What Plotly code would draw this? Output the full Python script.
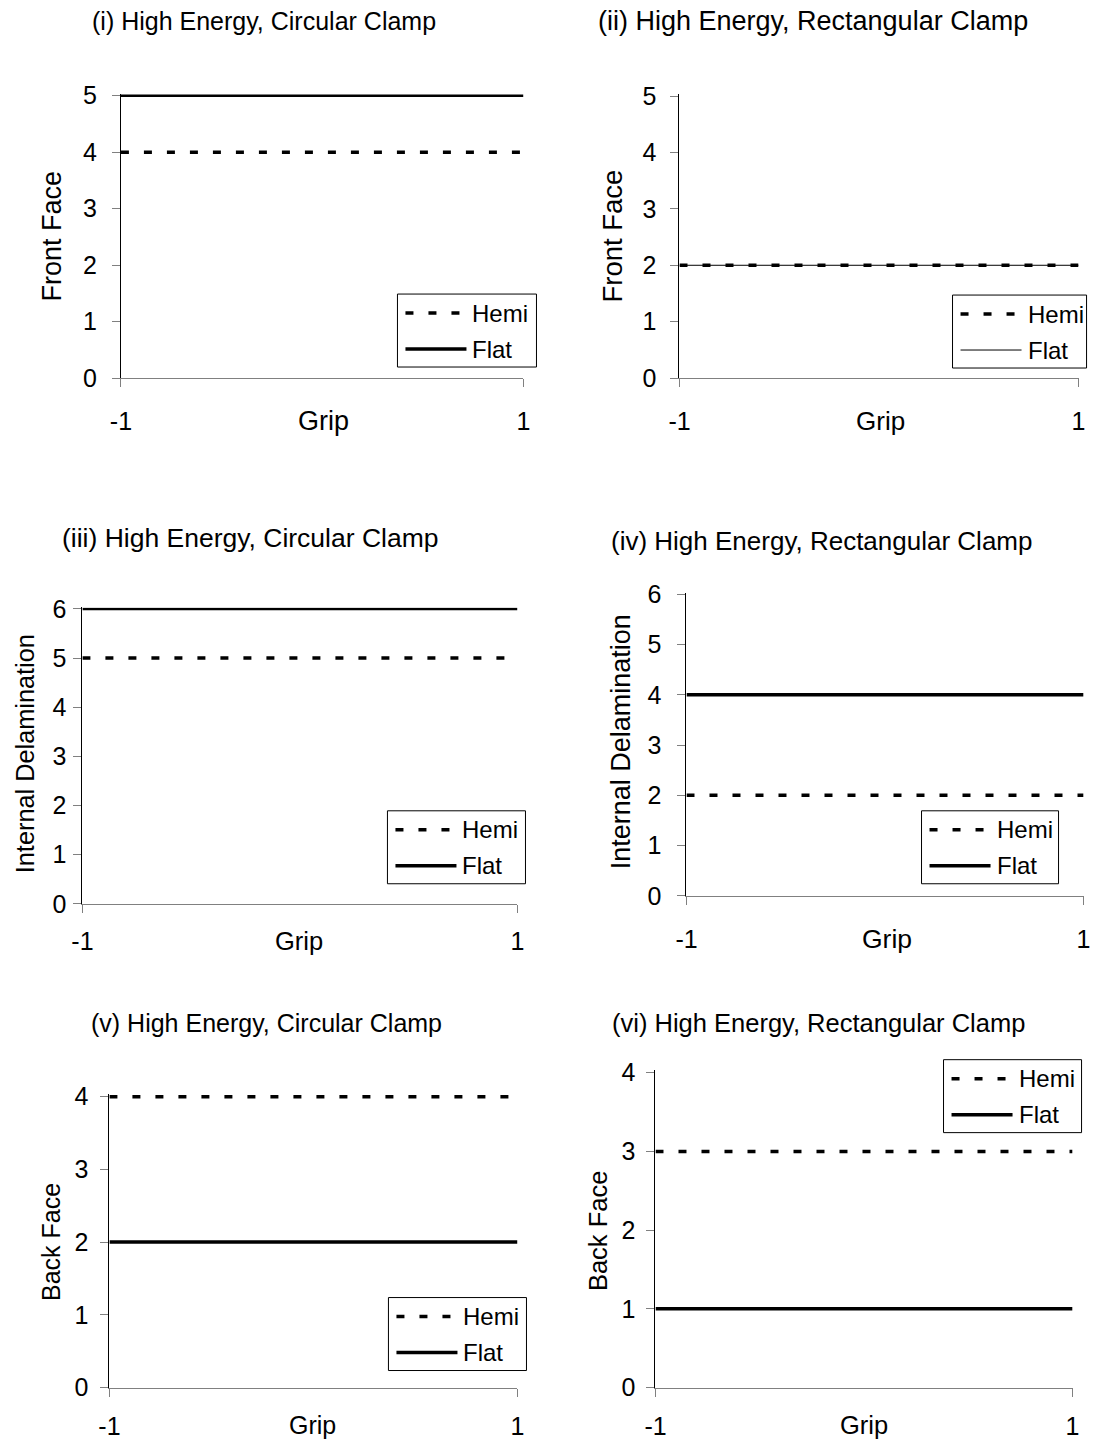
import plotly.graph_objects as go

FONT = "Liberation Sans, Arial, sans-serif"
W, H = 1100, 1460

# ---- data ----
grip = [-1, 1]
grip_labels = ["-1", "1"]
hemi_values = [4, 2, 5, 2, 4, 3]
flat_values = [5, 2, 6, 4, 2, 1]
y_max = [5, 5, 6, 6, 4, 4]
titles = [
    "(i) High Energy, Circular Clamp",
    "(ii) High Energy, Rectangular Clamp",
    "(iii) High Energy, Circular Clamp",
    "(iv) High Energy, Rectangular Clamp",
    "(v) High Energy, Circular Clamp",
    "(vi) High Energy, Rectangular Clamp",
]
y_titles = ["Front Face", "Front Face", "Internal Delamination",
            "Internal Delamination", "Back Face", "Back Face"]
series_names = ["Hemi", "Flat"]
x_title = "Grip"

# ---- layout, in target page pixels ----
geo = [
    dict(x0=120.5, x1=523, yb=377, yt=94.5, tx=264, ty=20, ytx=52, yty=235, lx=397, ly=293, lw=139, ys=10, xs=13, gx=323, gy=420),
    dict(x0=679, x1=1078, yb=377, yt=95, tx=812, ty=20, ytx=612, yty=235, lx=952, ly=294, lw=134, ys=9, xs=13, gx=880, gy=420),
    dict(x0=82, x1=517, yb=903, yt=608, tx=250, ty=537, ytx=24, yty=753, lx=387, ly=810, lw=138, ys=2, xs=7, gx=299, gy=940),
    dict(x0=686, x1=1083, yb=895, yt=593.5, tx=821, ty=540, ytx=620, yty=741, lx=921, ly=810, lw=137, ys=11, xs=13, gx=886, gy=938),
    dict(x0=109, x1=517, yb=1387, yt=1096, tx=266, ty=1022, ytx=50, yty=1241, lx=388, ly=1297, lw=138, ys=7, xs=8, gx=312, gy=1425),
    dict(x0=655, x1=1072, yb=1387, yt=1072, tx=818, ty=1022, ytx=597, yty=1230, lx=943, ly=1059, lw=138, ys=6, xs=8, gx=863, gy=1425),
]
title_fs = [25, 27, 26.5, 26, 25, 25.5]
ytitle_fs = [27, 27.5, 25.3, 27, 25, 25.5]
grip_fs = [27, 26, 25.5, 26.5, 25, 25.5]
flat_widths = [2.5, 1, 2.5, 3.5, 3.5, 3.5]
DASH = "8px,15px"

# measured page placement of the figure: page = 0.9835*fig + 10.6 (x), 0.982*fig + 11.8 (y)
SX, OX, SY, OY = 0.9835, 10.6, 0.982, 11.8


def px(x):
    return ((x - OX) / SX) / W


def py(y):
    return 1 - ((y - OY) / SY) / H


def clamp(v):
    return max(0.0, min(1.0, v))


fig = go.Figure()
annotations = []
shapes = []
layout_axes = {}
PAD = 0.03

for i, g in enumerate(geo):
    n = i + 1
    xa = "x" if n == 1 else f"x{n}"
    ya = "y" if n == 1 else f"y{n}"
    per_unit = (g["yb"] - g["yt"]) / y_max[i]
    ytop_px = g["yt"] - PAD * per_unit
    xdom = [clamp(px(g["x0"])), clamp(px(g["x1"]))]
    ydom = [clamp(py(g["yb"])), clamp(py(ytop_px))]

    fig.add_trace(go.Scatter(
        x=grip, y=[hemi_values[i]] * len(grip), mode="lines", name=series_names[0],
        line=dict(color="black", width=3.5, dash=DASH),
        xaxis=xa, yaxis=ya, showlegend=False))
    fig.add_trace(go.Scatter(
        x=grip, y=[flat_values[i]] * len(grip), mode="lines", name=series_names[1],
        line=dict(color="black", width=flat_widths[i]),
        xaxis=xa, yaxis=ya, showlegend=False))

    xkey = "xaxis" if n == 1 else f"xaxis{n}"
    ykey = "yaxis" if n == 1 else f"yaxis{n}"
    layout_axes[xkey] = dict(
        domain=xdom, range=[-1, 1], anchor=ya, tickmode="array",
        tickvals=grip, ticktext=grip_labels, ticks="outside", ticklen=8,
        tickcolor="#808080", showline=True, linecolor="#808080", linewidth=1,
        showgrid=False, zeroline=False, ticklabelstandoff=int(g["xs"]),
        tickfont=dict(family=FONT, size=25, color="black"))
    layout_axes[ykey] = dict(
        domain=ydom, range=[0, y_max[i] + PAD], anchor=xa, tickmode="array",
        tickvals=list(range(0, y_max[i] + 1)), ticks="outside", ticklen=8,
        tickcolor="#808080", showline=True, linecolor="black", linewidth=1,
        showgrid=False, zeroline=False, ticklabelstandoff=int(g["ys"]),
        tickfont=dict(family=FONT, size=25, color="black"))

    # legend key drawn as a framed box
    lx, ly, lw, lh = g["lx"], g["ly"], g["lw"], 73
    shapes.append(dict(type="rect", xref="paper", yref="paper",
                       x0=px(lx), x1=px(lx + lw), y0=py(ly + lh), y1=py(ly),
                       line=dict(color="black", width=1), fillcolor="white", layer="above"))
    row_y = [ly + 19, ly + 55]
    shapes.append(dict(type="line", xref="paper", yref="paper",
                       x0=px(lx + 8), x1=px(lx + 64), y0=py(row_y[0]), y1=py(row_y[0]),
                       line=dict(color="black", width=3.5, dash=DASH), layer="above"))
    shapes.append(dict(type="line", xref="paper", yref="paper",
                       x0=px(lx + 8), x1=px(lx + 69), y0=py(row_y[1]), y1=py(row_y[1]),
                       line=dict(color="black", width=1 if flat_widths[i] < 2 else 3.5),
                       layer="above"))
    for name, ry in zip(series_names, row_y):
        annotations.append(dict(
            text=name, x=px(lx + 73), y=py(ry), xref="paper", yref="paper",
            showarrow=False, xanchor="left", yanchor="middle",
            font=dict(family=FONT, size=24, color="black")))

    annotations.append(dict(
        text=titles[i], x=px(g["tx"]), y=py(g["ty"]), xref="paper", yref="paper",
        showarrow=False, xanchor="center", yanchor="middle",
        font=dict(family=FONT, size=title_fs[i], color="black")))
    annotations.append(dict(
        text=y_titles[i], x=px(g["ytx"]), y=py(g["yty"]),
        xref="paper", yref="paper", showarrow=False, textangle=-90,
        xanchor="center", yanchor="middle",
        font=dict(family=FONT, size=ytitle_fs[i], color="black")))
    annotations.append(dict(
        text=x_title, x=px(g["gx"]), y=py(g["gy"]), xref="paper", yref="paper",
        showarrow=False, xanchor="center", yanchor="middle",
        font=dict(family=FONT, size=grip_fs[i], color="black")))

fig.update_layout(
    width=W, height=H, margin=dict(l=0, r=0, t=0, b=0),
    paper_bgcolor="white", plot_bgcolor="white",
    font=dict(family=FONT, color="black"), showlegend=False,
    annotations=annotations, shapes=shapes, **layout_axes)

fig.write_html("out.html")
